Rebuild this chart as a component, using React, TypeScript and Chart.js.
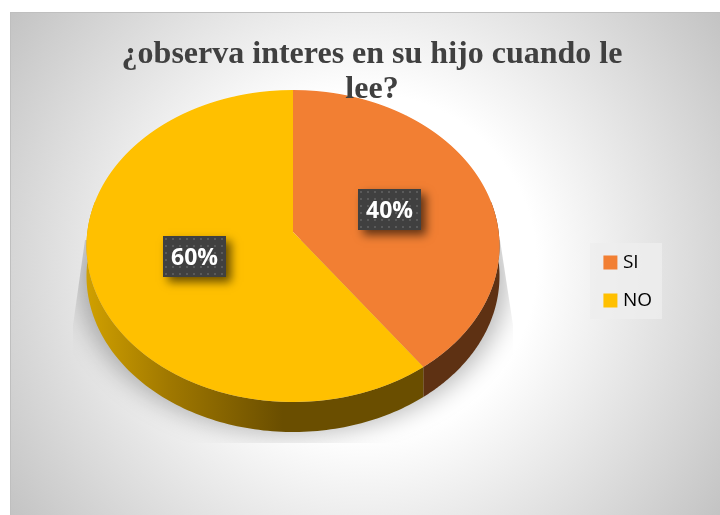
import React, { useEffect, useRef } from "react";
import { Chart, registerables } from "chart.js";

Chart.register(...registerables);

const titleLines = ["¿observa interes en su hijo cuando le", "lee?"];
const categories = ["SI", "NO"];
const seriesValues = [40, 60];
const sliceColors = ["#f27f33", "#ffc000"];

const W = 720, H = 515;
const CX = 293, CY = 232, TOP_RY = 142, BOTTOM_RY = 170, RX = 206.5, DEPTH = 30;
const P = (BOTTOM_RY - TOP_RY) / (BOTTOM_RY + TOP_RY);
const B = BOTTOM_RY * (1 - P);
const A = RX * Math.sqrt(1 - P * P);

const project = (nx: number, ny: number) => {
  const w = 1 - P * ny;
  return { x: CX + (A * nx) / w, y: CY + (B * ny) / w };
};

function drawWall(ctx: CanvasRenderingContext2D, from: number, to: number, fill: any) {
  ctx.beginPath();
  const n = 120;
  for (let i = 0; i <= n; i++) {
    const t = from + ((to - from) * i) / n;
    const p = project(Math.cos(t), Math.sin(t));
    if (i === 0) ctx.moveTo(p.x, p.y); else ctx.lineTo(p.x, p.y);
  }
  for (let i = n; i >= 0; i--) {
    const t = from + ((to - from) * i) / n;
    const p = project(Math.cos(t), Math.sin(t));
    ctx.lineTo(p.x, p.y + DEPTH);
  }
  ctx.closePath();
  ctx.fillStyle = fill;
  ctx.fill();
}

function ellipsePath(ctx: CanvasRenderingContext2D, dy: number, grow: number) {
  ctx.beginPath();
  for (let i = 0; i <= 180; i++) {
    const t = (i / 180) * Math.PI * 2;
    const p = project(Math.cos(t), Math.sin(t));
    const x = CX + (p.x - CX) * grow;
    if (i === 0) ctx.moveTo(x, p.y + dy); else ctx.lineTo(x, p.y + dy);
  }
  ctx.closePath();
}

const scene = {
  id: "scene",
  beforeLayout(chart: any) {
    const tb = chart.titleBlock;
    if (tb) tb._layers = () => [{ z: 5, draw: () => tb.draw() }];
  },
  beforeDraw(chart: any) {
    const ctx: CanvasRenderingContext2D = chart.ctx;
    ctx.save();
    ctx.fillStyle = "#ffffff";
    ctx.fillRect(0, 0, W, H);
    const g = ctx.createRadialGradient(365, 265, 0, 365, 265, 440);
    g.addColorStop(0, "#ffffff");
    g.addColorStop(0.39, "#ffffff");
    g.addColorStop(1, "#c2c2c2");
    ctx.fillStyle = g;
    ctx.fillRect(10, 12, W - 10, H - 12);
    ctx.fillStyle = "#bfbfbf";
    ctx.fillRect(10, 12, W - 10, 1);
    ctx.fillRect(10, 12, 1, H - 12);
    ctx.fillStyle = "rgba(238,238,238,0.8)";
    ctx.fillRect(590, 243, 72, 76);
    ctx.restore();
  },
  beforeDatasetsDraw(chart: any) {
    const ctx: CanvasRenderingContext2D = chart.ctx;
    const arcs = chart.getDatasetMeta(0).data;
    // soft shadow under the disc, cut by the slanted frame it has in the picture
    ctx.save();
    ctx.beginPath();
    ctx.moveTo(85, 240);
    ctx.lineTo(73, 325);
    ctx.lineTo(73, 443);
    ctx.lineTo(513, 443);
    ctx.lineTo(513, 325);
    ctx.lineTo(500, 240);
    ctx.closePath();
    ctx.clip();
    ctx.filter = "blur(12px)";
    ctx.fillStyle = "rgba(0,0,0,0.27)";
    ellipsePath(ctx, DEPTH + 2, 1.04);
    ctx.fill();
    ctx.filter = "none";
    ctx.restore();

    // side wall, split where the first slice ends
    ctx.save();
    const boundary = arcs[0].endAngle;
    const norm = boundary > Math.PI ? boundary - Math.PI * 2 : boundary;
    const wallG = ctx.createLinearGradient(CX - RX, 0, CX, 0);
    wallG.addColorStop(0, "#d0a000");
    wallG.addColorStop(0.4, "#a07800");
    wallG.addColorStop(0.95, "#6a4e00");
    wallG.addColorStop(1, "#6a4e00");
    drawWall(ctx, -0.2, norm, "#5e3113");
    drawWall(ctx, norm, Math.PI + 0.2, wallG);
    ctx.restore();

    // top face: the library's arc elements, drawn through a perspective row by row
    const a0 = arcs[0];
    const R = a0.outerRadius;
    for (let row = Math.floor(CY - TOP_RY) - 1; row <= CY + BOTTOM_RY + 1; row++) {
      const yp = row + 0.5 - CY;
      const ny = yp / (B + P * yp);
      if (Math.abs(ny) > 1.02) continue;
      const w = 1 - P * ny;
      const sx = A / w / R;
      const k = (B + P * yp) * (B + P * yp) / B;
      const sy = k / R;
      ctx.save();
      ctx.beginPath();
      ctx.rect(0, row, W, 1);
      ctx.clip();
      ctx.setTransform(sx, 0, 0, sy, CX - sx * a0.x, row + 0.5 - sy * (a0.y + ny * R));
      arcs.forEach((arc: any) => arc.draw(ctx));
      ctx.restore();
    }

    // data labels
    const tile = document.createElement("canvas");
    tile.width = 7; tile.height = 7;
    const tc = tile.getContext("2d")!;
    tc.fillStyle = "#404040"; tc.fillRect(0, 0, 7, 7);
    tc.fillStyle = "#5a5a5a"; tc.fillRect(2, 2, 2, 2);
    const pat = ctx.createPattern(tile, "repeat")!;
    const total = seriesValues.reduce((s, v) => s + v, 0);
    arcs.forEach((arc: any, i: number) => {
      const c = arc.getCenterPoint();
      const p = project((c.x - a0.x) / R, (c.y - a0.y) / R);
      const bw = 63, bh = 41;
      const x = Math.round(p.x - bw / 2) + (i === 1 ? 1 : 0), y = Math.round(p.y - bh / 2) + (i === 0 ? 1 : 0);
      ctx.save();
      ctx.shadowColor = "rgba(0,0,0,0.6)";
      ctx.shadowBlur = 9;
      ctx.shadowOffsetX = 5;
      ctx.shadowOffsetY = 5;
      ctx.fillStyle = "#404040";
      ctx.fillRect(x, y, bw, bh);
      ctx.restore();
      ctx.save();
      ctx.translate(x, y);
      ctx.fillStyle = pat;
      ctx.fillRect(0, 0, bw, bh);
      ctx.restore();
      ctx.save();
      ctx.fillStyle = "#ffffff";
      ctx.font = "bold 23px 'Open Sans'";
      ctx.textAlign = "center";
      ctx.textBaseline = "middle";
      ctx.fillText(`${Math.round((seriesValues[i] / total) * 100)}%`, x + bw / 2, y + bh / 2 + 2);
      ctx.restore();
    });
    return false;
  },
};

export default function App() {
  const ref = useRef<HTMLCanvasElement>(null);
  useEffect(() => {
    const chart = new Chart(ref.current!, {
      type: "pie",
      data: {
        labels: categories,
        datasets: [{ data: seriesValues, backgroundColor: sliceColors, borderWidth: 0 }],
      },
      options: {
        responsive: false,
        animation: false,
        layout: { padding: { left: 82, right: 58, top: 51, bottom: 3 } },
        plugins: {
          tooltip: { enabled: false },
          title: {
            display: true,
            text: titleLines,
            color: "#404040",
            font: { family: "'Liberation Serif'", size: 32, weight: "bold", lineHeight: 1.1 },
            padding: { top: -14, bottom: 0 },
          },
          legend: {
            position: "right",
            labels: {
              color: "#595959",
              font: { family: "'Open Sans'", size: 19 },
              boxWidth: 6,
              boxHeight: 6,
              padding: 19,
              generateLabels: () =>
                categories.map((text, i) => ({
                  text,
                  fillStyle: sliceColors[i],
                  strokeStyle: sliceColors[i],
                  lineWidth: 8,
                  hidden: false,
                  index: i,
                })),
            },
          },
        },
      } as any,
      plugins: [scene as any],
    });
    return () => chart.destroy();
  }, []);
  return <canvas ref={ref} width={W} height={H} style={{ position: "fixed", left: 0, top: 0, width: W, height: H }} />;
}
